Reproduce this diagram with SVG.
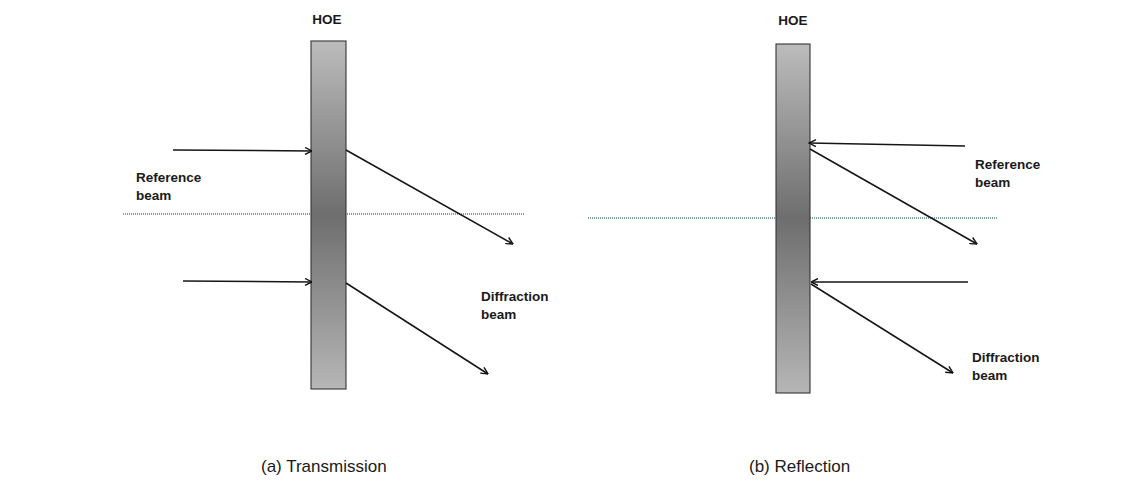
<svg xmlns="http://www.w3.org/2000/svg" width="1145" height="480" viewBox="0 0 1145 480">
  <style>
    .bold { font-family: "Liberation Sans", Arial, sans-serif; font-weight: bold; font-size: 13.5px; fill: #1a1a1a; }
    .cap { font-family: "Liberation Sans", Arial, sans-serif; font-size: 17px; fill: #1a1a1a; }
    .plate { fill: url(#plateGrad); stroke: #333333; stroke-width: 1.1; }
    .ray { stroke: #151515; stroke-width: 1.5; fill: none; marker-end: url(#open); }
    .axis { stroke: #557f90; stroke-width: 1.6; stroke-dasharray: 1 1; fill: none; }
  </style>
  <defs>
    <linearGradient id="plateGrad" x1="0" y1="0" x2="0" y2="1">
      <stop offset="0" stop-color="#bcbcbc"/>
      <stop offset="0.5" stop-color="#6e6e6e"/>
      <stop offset="1" stop-color="#b6b6b6"/>
    </linearGradient>
    <marker id="open" viewBox="0 0 8 8" refX="7.5" refY="4" markerWidth="8" markerHeight="8" markerUnits="userSpaceOnUse" orient="auto">
      <path d="M0.5,0.5 L7.5,4 L0.5,7.5" fill="none" stroke="#151515" stroke-width="1.4"/>
    </marker>
  </defs>

  <rect width="1145" height="480" fill="#ffffff"/>

  <!-- optical axes (dotted), drawn beneath the plates -->
  <g id="axes">
    <line class="axis" x1="123" y1="214" x2="525" y2="214"/>
    <line class="axis" x1="588" y1="218" x2="998" y2="218"/>
  </g>

  <!-- (a) transmission hologram -->
  <g id="hoe-transmission">
    <rect class="plate" x="311" y="41" width="35" height="348"/>
    <text class="bold" x="327" y="24" text-anchor="middle">HOE</text>
  </g>

  <!-- (b) reflection hologram -->
  <g id="hoe-reflection">
    <rect class="plate" x="776" y="44" width="34" height="349"/>
    <text class="bold" x="793" y="25" text-anchor="middle">HOE</text>
  </g>

  <!-- beam rays -->
  <g id="connectors">
    <!-- transmission: incident from the left, diffracted through to the right -->
    <line class="ray" x1="173" y1="150" x2="312" y2="151"/>
    <line class="ray" x1="183" y1="281" x2="312" y2="282"/>
    <line class="ray" x1="346" y1="150" x2="513" y2="244"/>
    <line class="ray" x1="346" y1="283" x2="488" y2="374"/>
    <!-- reflection: incident from the right, diffracted back to the right -->
    <line class="ray" x1="965" y1="146" x2="809" y2="143"/>
    <line class="ray" x1="968" y1="282" x2="811" y2="282"/>
    <line class="ray" x1="810" y1="149" x2="977" y2="244"/>
    <line class="ray" x1="811" y1="284" x2="953" y2="373"/>
  </g>

  <!-- beam labels -->
  <g id="label-ref-a">
    <text class="bold" x="136" y="182">Reference</text>
    <text class="bold" x="136" y="200">beam</text>
  </g>
  <g id="label-diff-a">
    <text class="bold" x="481" y="301">Diffraction</text>
    <text class="bold" x="481" y="319">beam</text>
  </g>
  <g id="label-ref-b">
    <text class="bold" x="975" y="169">Reference</text>
    <text class="bold" x="975" y="187">beam</text>
  </g>
  <g id="label-diff-b">
    <text class="bold" x="972" y="362">Diffraction</text>
    <text class="bold" x="972" y="380">beam</text>
  </g>

  <!-- panel captions -->
  <g id="captions">
    <text class="cap" x="261" y="472">(a) Transmission</text>
    <text class="cap" x="749" y="472">(b) Reflection</text>
  </g>
</svg>
